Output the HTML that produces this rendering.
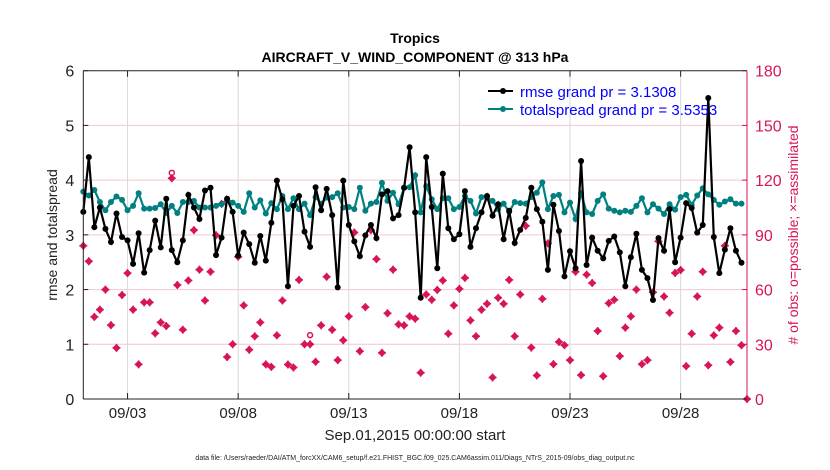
<!DOCTYPE html>
<html><head><meta charset="utf-8"><style>
body{margin:0;background:#fff;}
svg{display:block;font-family:"Liberation Sans",Arial,sans-serif;}
</style></head><body>
<svg id="chart" width="830" height="470" viewBox="0 0 830 470">
<rect width="830" height="470" fill="#fff"/>
<g id="grid"></g>
<g id="series"></g>
<g id="axes"></g>
<text x="415" y="43" text-anchor="middle" font-size="14" font-weight="bold">Tropics</text>
<text x="415" y="62" text-anchor="middle" font-size="14" font-weight="bold">AIRCRAFT_V_WIND_COMPONENT @ 313 hPa</text>
<text x="415" y="440" text-anchor="middle" font-size="15" fill="#222">Sep.01,2015 00:00:00 start</text>
<text x="415" y="460" text-anchor="middle" font-size="7" fill="#222">data file: /Users/raeder/DAI/ATM_forcXX/CAM6_setup/f.e21.FHIST_BGC.f09_025.CAM6assim.011/Diags_NTrS_2015-09/obs_diag_output.nc</text>
<text transform="translate(57,235) rotate(-90)" text-anchor="middle" font-size="14" fill="#222">rmse and totalspread</text>
<text transform="translate(798,235) rotate(-90)" text-anchor="middle" font-size="14" fill="#d7145a"># of obs: o=possible; ×=assimilated</text>
<g>
<g>
<line x1="488" y1="91" x2="513" y2="91" stroke="#000" stroke-width="2"/><circle cx="503" cy="91" r="3" fill="#000"/>
<text x="520" y="97" font-size="15" fill="#0000ff">rmse grand pr = 3.1308</text></g>
<g>
<line x1="488" y1="109" x2="513" y2="109" stroke="#008080" stroke-width="2"/><circle cx="503" cy="109" r="3" fill="#008080"/>
<text x="520" y="115" font-size="15" fill="#0000ff">totalspread grand pr = 3.5353</text></g>
</g>
</svg>
<script>
const rmse=[3.42,4.42,3.14,3.5,3.11,2.87,3.39,2.96,2.9,2.47,3.03,2.31,2.72,3.26,2.77,3.66,2.72,2.5,2.9,3.73,3.5,3.29,3.81,3.86,2.63,2.95,3.66,3.42,2.62,3.04,2.83,2.49,2.98,2.53,3.22,3.99,3.65,2.06,3.53,3.71,3.06,2.78,3.87,3.45,3.84,3.36,2.04,3.99,3.18,2.88,2.61,2.99,3.18,2.94,3.74,3.8,3.3,3.36,3.86,4.6,3.41,1.85,4.42,3.51,2.39,4.12,3.12,2.92,3.01,3.8,2.78,3.12,3.41,3.71,3.35,3.56,2.92,3.44,2.85,3.09,3.31,3.86,3.47,3.24,2.36,3.55,3.07,2.24,2.7,2.39,4.35,2.45,2.95,2.71,2.57,2.89,2.97,2.68,2.06,2.59,3.02,2.36,2.21,1.81,2.94,2.71,3.47,2.5,2.95,3.58,3.49,3.04,3.18,5.5,2.96,2.3,2.73,3.12,2.71,2.49,null];
const spread=[3.79,3.72,3.82,3.6,3.45,3.6,3.7,3.64,3.45,3.53,3.76,3.48,3.48,3.49,3.56,3.4,3.53,3.4,3.6,3.6,3.62,3.5,3.5,3.5,3.53,3.56,3.65,3.59,3.53,3.42,3.76,3.5,3.63,3.39,3.58,3.47,3.71,3.47,3.67,3.47,3.57,3.36,3.69,3.57,3.68,3.69,3.76,3.5,3.51,3.47,3.86,3.44,3.57,3.6,3.95,3.62,3.77,3.56,3.86,3.87,4.09,3.41,3.89,3.65,3.47,3.67,3.67,3.47,3.51,3.71,3.62,3.39,3.69,3.68,3.62,3.47,3.57,3.42,3.6,3.58,3.57,3.69,3.77,3.96,3.47,3.71,3.73,3.41,3.59,3.29,3.76,3.41,3.38,3.62,3.74,3.48,3.44,3.41,3.44,3.42,3.53,3.67,3.41,3.56,3.48,3.38,3.56,3.46,3.69,3.73,3.55,3.72,3.85,3.74,3.64,3.55,3.61,3.65,3.57,3.57,null];
const nobs=[84,75.5,45,49,60,40.5,28,57,69,49,19,53,53,36,42,40,121,62.5,38,65,92.6,70.9,54,69.8,89.8,107,23,30,78,51.3,27,34.4,42,19,17.6,34.9,54,18.9,17.3,65.3,30,30,20.4,40.4,67,38,21.3,32.2,45.3,91.3,26.2,50.4,92.6,76.7,25.3,47,70.9,40.9,40.4,45.3,44,14.4,57.3,54.4,59.8,65,35.8,51.3,60.4,66.4,43.1,34.4,48.9,52.2,11.8,55.5,52.2,65.3,34.4,57.3,94.9,28.2,12.9,54.9,85.3,19.1,31.3,29.5,21.3,69.8,13.1,68.2,63.6,37.3,12.5,52.5,54.4,23.5,39.1,45.3,60,19.1,21.3,58.5,86.4,56.2,47.3,69.1,70.7,18,35.8,56.2,69.8,18.5,34.9,39.1,84,20.3,37.3,29.5,0];
const possibleIdx=[16,41];
const possibleVals=[124,35];
const xTickDays=[2,7,12,17,22,27];
const xTickLabels=["09/03","09/08","09/13","09/18","09/23","09/28"];
const yTicks=[0,1,2,3,4,5,6];
const y2Ticks=[0,30,60,90,120,150,180];

const NS="http://www.w3.org/2000/svg";
const L=83.3,R=747,T=70.7,B=399;
const X=d=>L+(d/30)*(R-L);
const Y=v=>B-(v/6)*(B-T);
const Y2=v=>B-(v/180)*(B-T);
function mk(tag,attrs,parent){const e=document.createElementNS(NS,tag);for(const k in attrs)e.setAttribute(k,attrs[k]);parent.appendChild(e);return e;}
const grid=document.getElementById('grid'),series=document.getElementById('series'),axes=document.getElementById('axes');

yTicks.forEach((t,i)=>{
  if(t>0&&t<6){const g=mk('line',{x1:L,x2:R,y1:Y(t),y2:Y(t),stroke:'#f2c6d6','stroke-width':1},grid);
  
  }
  const tl=mk('text',{x:L-9,y:Y(t)+6,'text-anchor':'end','font-size':16,fill:'#222'},axes);tl.textContent=t;
  
  
  mk('line',{x1:L,x2:L+5,y1:Y(t),y2:Y(t),stroke:'#222'},axes);
});
y2Ticks.forEach(t=>{
  mk('line',{x1:R-5,x2:R,y1:Y2(t),y2:Y2(t),stroke:'#d7145a'},axes);
  const tl=mk('text',{x:R+8,y:Y2(t)+6,'font-size':16,fill:'#d7145a'},axes);tl.textContent=t;
  
  
});
xTickDays.forEach((d,i)=>{
  const g=mk('line',{x1:X(d),x2:X(d),y1:T,y2:B,stroke:'#d8d8d8'},grid);
  
  
  mk('line',{x1:X(d),x2:X(d),y1:B,y2:B-6,stroke:'#222'},axes);
  mk('line',{x1:X(d),x2:X(d),y1:T,y2:T+6,stroke:'#222'},axes);
  const tl=mk('text',{x:X(d),y:B+19,'text-anchor':'middle','font-size':15,fill:'#222'},axes);tl.textContent=xTickLabels[i];
  
  
});
mk('line',{x1:L,x2:R,y1:T,y2:T,stroke:'#222'},axes);
mk('line',{x1:L,x2:R,y1:B,y2:B,stroke:'#222'},axes);
mk('line',{x1:L,x2:L,y1:T,y2:B,stroke:'#222'},axes);
mk('line',{x1:R,x2:R,y1:T,y2:B,stroke:'#d7145a'},axes);

nobs.forEach((v,i)=>{
  const cx=X(i*0.25),cy=Y2(v);
  const g=mk('path',{d:`M${cx-3},${cy}L${cx},${cy-3}L${cx+3},${cy}L${cx},${cy+3}Z M${cx-4},${cy}H${cx+4} M${cx},${cy-4}V${cy+4}`,fill:'#d7145a',stroke:'#d7145a','stroke-width':1.5},series);
  
  
});
possibleIdx.forEach((idx,k)=>{
  const c=mk('circle',{cx:X(idx*0.25),cy:Y2(possibleVals[k]),r:2.5,fill:'none',stroke:'#d7145a','stroke-width':1.5},series);
  
  
});
function line(arr,color,name){
  let d='';arr.forEach((v,i)=>{if(v==null)return;d+=(d?'L':'M')+X(i*0.25).toFixed(1)+','+Y(v).toFixed(1);});
  const p=mk('path',{d:d,fill:'none',stroke:color,'stroke-width':2.2},series);
  
  
  arr.forEach((v,i)=>{if(v==null)return;
    const c=mk('circle',{cx:X(i*0.25),cy:Y(v),r:3,fill:color},series);
    
    });
}
line(spread,'#008080','totalspread');
line(rmse,'#000','rmse');
</script>
</body></html>
